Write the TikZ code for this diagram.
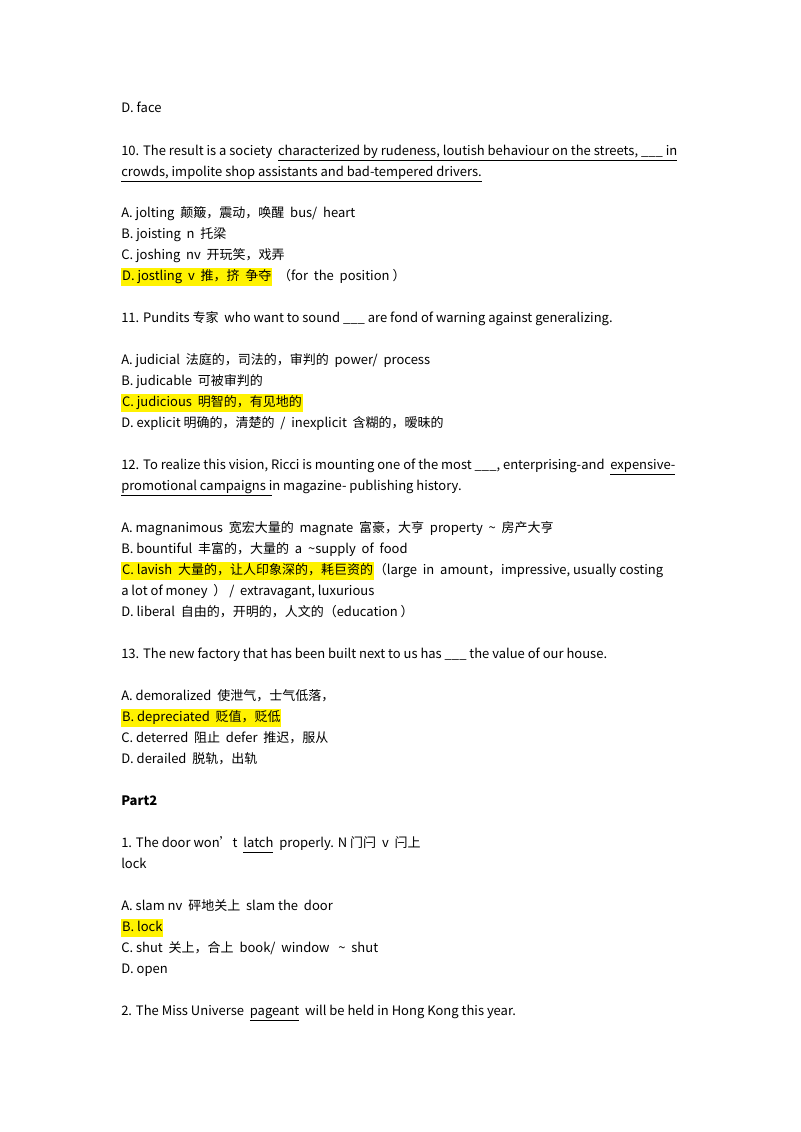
\documentclass[tikz,border=0pt]{standalone}
\usepackage{fontspec}
\setmainfont{Noto Sans CJK SC}
\newcommand{\hlt}[1]{{\setlength{\fboxsep}{0.6pt}\colorbox{yellow}{\strut #1}}}
\newcommand{\ul}[1]{\underline{#1\vphantom{gy}}}
\begin{document}
\begin{tikzpicture}[x=0.75pt,y=-0.75pt,
  ln/.style={anchor=base west,inner sep=0pt,font=\fontsize{9.75pt}{12pt}\selectfont}]
\useasboundingbox[fill=white] (0,0) rectangle (800,1132);
\def\X{121}
\node[ln] (l1) at (\X,112) {D. face};
\node[ln] (l2) at (\X,155) {10. The result is a society \ \ul{characterized by rudeness, loutish behaviour on the streets, \_\_\_ in}};
\node[ln] (l3) at (\X,176) {\ul{crowds, impolite shop assistants and bad-tempered drivers.}};
\node[ln] (l4) at (\X,217) {A. jolting \ 颠簸，震动，唤醒 \ bus/ \ heart};
\node[ln] (l5) at (\X,238) {B. joisting \ n \ 托梁};
\node[ln] (l6) at (\X,259) {C. joshing \ nv \ 开玩笑，戏弄};
\node[ln] (l7) at (\X,280) {\hlt{D. jostling \ v \ 推，挤 \ 争夺} \ （for \ the \ position ）};
\node[ln] (l8) at (\X,322) {11. Pundits 专家 \ who want to sound \_\_\_ are fond of warning against generalizing.};
\node[ln] (l9) at (\X,364) {A. judicial \ 法庭的，司法的，审判的 \ power/ \ process};
\node[ln] (l10) at (\X,385) {B. judicable \ 可被审判的};
\node[ln] (l11) at (\X,406) {\hlt{C. judicious \ 明智的，有见地的}};
\node[ln] (l12) at (\X,427) {D. explicit 明确的，清楚的 \ / \ inexplicit \ 含糊的，暧昧的};
\node[ln] (l13) at (\X,469) {12. To realize this vision, Ricci is mounting one of the most \_\_\_, enterprising-and \ \ul{expensive-}};
\node[ln] (l14) at (\X,490) {\ul{promotional campaigns i}n magazine- publishing history.};
\node[ln] (l15) at (\X,532) {A. magnanimous \ 宽宏大量的 \ magnate \ 富豪，大亨 \ property \ \textasciitilde \ \ 房产大亨};
\node[ln] (l16) at (\X,553) {B. bountiful \ 丰富的，大量的 \ a \ \textasciitilde supply \ of \ food};
\node[ln] (l17) at (\X,574) {\hlt{C. lavish \ 大量的，让人印象深的，耗巨资的}（large \ in \ amount，impressive, usually costing};
\node[ln] (l18) at (\X,595) {a lot of money \ ） / \ extravagant, luxurious};
\node[ln] (l19) at (\X,616) {D. liberal \ 自由的，开明的，人文的（education ）};
\node[ln] (l20) at (\X,658) {13. The new factory that has been built next to us has \_\_\_ the value of our house.};
\node[ln] (l21) at (\X,700) {A. demoralized \ 使泄气，士气低落，};
\node[ln] (l22) at (\X,721) {\hlt{B. depreciated \ 贬值，贬低}};
\node[ln] (l23) at (\X,742) {C. deterred \ 阻止 \ defer \ 推迟，服从};
\node[ln] (l24) at (\X,763) {D. derailed \ 脱轨，出轨};
\node[ln,font=\fontsize{9.75pt}{12pt}\selectfont\bfseries] (l25) at (\X,805) {Part2};
\node[ln] (l26) at (\X,847) {1. The door won\char"0027t \ \ul{latch} \ properly. N 门闩 \ v \ 闩上};
\node[ln] (l27) at (\X,868) {lock};
\node[ln] (l28) at (\X,910) {A. slam nv \ 砰地关上 \ slam the \ door};
\node[ln] (l29) at (\X,931) {\hlt{B. lock}};
\node[ln] (l30) at (\X,952) {C. shut \ 关上，合上 \ book/ \ window \ \ \textasciitilde \ \ shut};
\node[ln] (l31) at (\X,973) {D. open};
\node[ln] (l32) at (\X,1015) {2. The Miss Universe \ \ul{pageant} \ will be held in Hong Kong this year.};
\end{tikzpicture}
\end{document}
